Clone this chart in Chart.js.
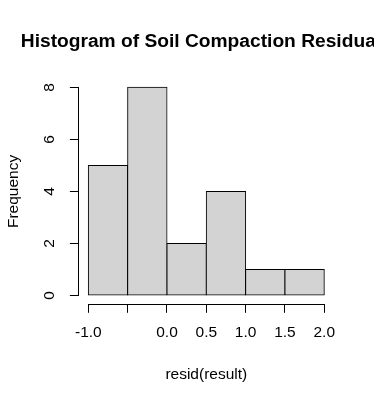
<!DOCTYPE html>
<html>
<head>
<meta charset="utf-8">
<script src="https://cdn.jsdelivr.net/npm/chart.js@4"></script>
<style>
  html, body { margin: 0; padding: 0; background: #fff; }
  #wrap { width: 374px; height: 402px; }
</style>
</head>
<body>
<div id="wrap"><canvas id="c" width="374" height="402"></canvas></div>
<script>
// ---- data ----
const chartTitle = 'Histogram of Soil Compaction Residuals';
const xAxisTitle = 'resid(result)';
const yAxisTitle = 'Frequency';
const binEdges = [-1.0, -0.5, 0.0, 0.5, 1.0, 1.5, 2.0];
const frequencies = [5, 8, 2, 4, 1, 1];
const xTickValues = [-1.0, -0.5, 0.0, 0.5, 1.0, 1.5, 2.0];
const xTickLabels = ['-1.0', '', '0.0', '0.5', '1.0', '1.5', '2.0'];
const yTickValues = [0, 2, 4, 6, 8];
const yTickLabels = ['0', '2', '4', '6', '8'];

const FONT = '"Liberation Sans", Arial, Helvetica, sans-serif';

const points = frequencies.map((f, i) => ({ x: (binEdges[i] + binEdges[i + 1]) / 2, y: f }));

const xSpan = binEdges[binEdges.length - 1] - binEdges[0];
const ySpan = Math.max(...yTickValues) - Math.min(...yTickValues);

const align = p => Math.round(p - 0.5) + 0.5;

const rStyle = {
  id: 'rStyle',
  afterDraw(chart) {
    const { ctx, chartArea, scales: { x, y } } = chart;
    ctx.save();
    ctx.strokeStyle = '#000';
    ctx.lineWidth = 1;
    // x axis line (from first to last tick)
    const xl = Math.round(x.top) + 0.5;
    ctx.beginPath();
    ctx.moveTo(align(x.getPixelForValue(xTickValues[0])) - 0.5, xl);
    ctx.lineTo(align(x.getPixelForValue(xTickValues[xTickValues.length - 1])) + 0.5, xl);
    ctx.stroke();
    // y axis line
    const yl = Math.round(y.right) - 0.5;
    ctx.beginPath();
    ctx.moveTo(yl, align(y.getPixelForValue(yTickValues[0])) + 0.5);
    ctx.lineTo(yl, align(y.getPixelForValue(yTickValues[yTickValues.length - 1])) - 0.5);
    ctx.stroke();

    ctx.fillStyle = '#000';
    const cx = (chartArea.left + chartArea.right) / 2;
    const cy = (chartArea.top + chartArea.bottom) / 2;
    // title
    ctx.font = 'bold 19.2px ' + FONT;
    ctx.textAlign = 'center';
    ctx.textBaseline = 'alphabetic';
    ctx.fillText(chartTitle, cx, 47);
    // x title
    ctx.font = '15.5px ' + FONT;
    ctx.fillText(xAxisTitle, cx, 379);
    // y title
    ctx.translate(17.5, cy);
    ctx.rotate(-Math.PI / 2);
    ctx.fillText(yAxisTitle, 0, 0);
    ctx.restore();
  }
};

new Chart(document.getElementById('c'), {
  type: 'bar',
  data: {
    datasets: [{
      data: points,
      backgroundColor: '#d3d3d3',
      borderColor: '#000000',
      borderWidth: 1,
      borderSkipped: false,
      inflateAmount: 0.5,
      barPercentage: 1.0,
      categoryPercentage: 1.0
    }]
  },
  options: {
    responsive: false,
    animation: false,
    events: [],
    layout: { padding: { left: 0, right: 40.3, top: 79, bottom: 0 } },
    plugins: {
      legend: { display: false },
      title: { display: false },
      tooltip: { enabled: false }
    },
    scales: {
      x: {
        type: 'linear',
        offset: false,
        min: binEdges[0] - 0.04 * xSpan,
        max: binEdges[binEdges.length - 1] + 0.04 * xSpan,
        afterBuildTicks: s => { s.ticks = xTickValues.map(v => ({ value: v })); },
        afterFit: s => { s.height = 98.2; },
        border: { display: false },
        grid: { display: true, drawOnChartArea: false, drawTicks: true, tickLength: 9, color: '#000', offset: false, lineWidth: 1 },
        ticks: {
          color: '#000',
          font: { family: FONT, size: 15.5 },
          padding: 11,
          maxRotation: 0,
          minRotation: 0,
          autoSkip: false,
          callback: (v, i) => xTickLabels[i]
        }
      },
      y: {
        type: 'linear',
        min: Math.min(...yTickValues) - 0.04 * ySpan,
        max: Math.max(...yTickValues) + 0.04 * ySpan,
        afterBuildTicks: s => { s.ticks = yTickValues.map(v => ({ value: v })); },
        afterFit: s => { s.width = 78.9; },
        border: { display: false },
        grid: { display: true, drawOnChartArea: false, drawTicks: true, tickLength: 9, color: '#000', lineWidth: 1 },
        ticks: {
          color: '#000',
          font: { family: FONT, size: 15.5 },
          padding: 16,
          minRotation: 90,
          maxRotation: 90,
          crossAlign: 'center',
          autoSkip: false,
          callback: (v, i) => yTickLabels[i]
        }
      }
    }
  },
  plugins: [rStyle]
});
</script>
</body>
</html>
